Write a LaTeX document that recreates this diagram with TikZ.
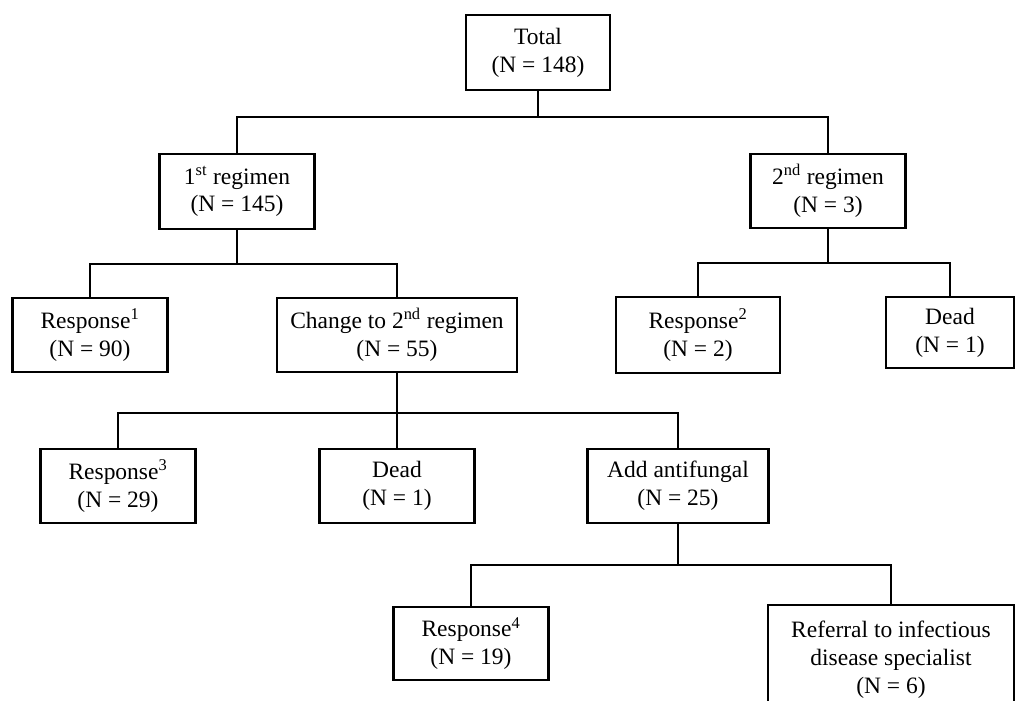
\documentclass[tikz,border=0pt]{standalone}
\usepackage{fontspec}
\setmainfont{Liberation Serif}
\usepackage{tikz}

\begin{document}
\begin{tikzpicture}[x=0.025cm, y=0.025cm,
    every node/.style={font=\fontsize{16.7}{19.8}\selectfont, align=center},
    box/.style={draw=black, fill=white, line width=1.6pt, inner sep=0pt, minimum width=3.875cm, minimum height=1.85cm},
    link/.style={draw=black, line width=1.6pt}]
                    \useasboundingbox (0,0) rectangle (1019,701);
                    \clip (0,0) rectangle (1019,701);

                    % top level
                    \node[box, minimum width=3.6cm, minimum height=1.875cm] (tot) at (538,648.5) {Total\\(N = 148)};
                    \node[box, minimum height=1.875cm] (r1) at (237,509.5) {1\textsuperscript{st} regimen\\(N = 145)};
                    \node[box] (r2) at (828,510) {2\textsuperscript{nd} regimen\\(N = 3)};

                    % after each regimen
                    \node[box] (resp1) at (90,366) {Response\textsuperscript{1}\\(N = 90)};
                    \node[box, minimum width=6.0cm] (chg) at (397,366) {Change to 2\textsuperscript{nd} regimen\\(N = 55)};
                    \node[box, minimum width=4.1cm, minimum height=1.9cm] (resp2) at (698,366) {Response\textsuperscript{2}\\(N = 2)};
                    \node[box, minimum width=3.2cm, minimum height=1.775cm] (dead2) at (950,368.5) {Dead\\(N = 1)};

                    % after the change
                    \node[box] (resp3) at (118,215) {Response\textsuperscript{3}\\(N = 29)};
                    \node[box] (dead3) at (397,215) {Dead\\(N = 1)};
                    \node[box, minimum width=4.525cm] (add) at (678,215) {Add antifungal\\(N = 25)};

                    % after antifungal
                    \node[box, minimum height=1.825cm] (resp4) at (471,57.5) {Response\textsuperscript{4}\\(N = 19)};
                    \node[box, minimum width=6.15cm, minimum height=2.75cm] (ref) at (891,41) {Referral to infectious\\disease specialist\\(N = 6)};

                    \coordinate (b0) at (538,584);
                    \coordinate (b1) at (237,437);
                    \coordinate (b2) at (828,438);
                    \coordinate (b3) at (397,288);
                    \coordinate (b4) at (678,136);

                    \draw[link] (tot) -- (b0);
                    \draw[link] (b0) -| (r1);
                    \draw[link] (b0) -| (r2);
                    \draw[link] (r1) -- (b1);
                    \draw[link] (b1) -| (resp1);
                    \draw[link] (b1) -| (chg);
                    \draw[link] (r2) -- (b2);
                    \draw[link] (b2) -| (resp2);
                    \draw[link] (b2) -| (dead2);
                    \draw[link] (chg) -- (b3);
                    \draw[link] (b3) -| (resp3);
                    \draw[link] (b3) -- (dead3);
                    \draw[link] (b3) -| (add);
                    \draw[link] (add) -- (b4);
                    \draw[link] (b4) -| (resp4);
                    \draw[link] (b4) -| (ref);
                \end{tikzpicture}
\end{document}
